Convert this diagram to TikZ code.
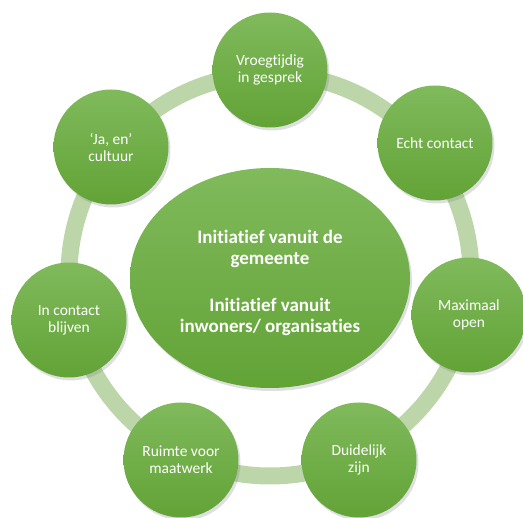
\documentclass[tikz,border=0pt]{standalone}
\usepackage{fontspec}
\setmainfont[Ligatures=NoCommon]{Carlito}
\usetikzlibrary{shadows,shapes.geometric}
\definecolor{ringgreen}{RGB}{188,214,170}
\definecolor{lightgreen}{RGB}{128,186,92}
\definecolor{darkgreen}{RGB}{98,163,54}
\tikzset{
	value/.style={circle, minimum size=115pt, inner sep=0pt, top color=lightgreen, bottom color=darkgreen,
		text=white, align=center, font=\fontsize{15.5}{17}\selectfont,
		drop shadow={opacity=0.25, shadow xshift=2pt, shadow yshift=-3pt}},
	core/.style={ellipse, minimum width=280pt, minimum height=220pt, inner sep=0pt, top color=lightgreen, bottom color=darkgreen,
		text=white, align=center, font=\bfseries\fontsize{19}{21}\selectfont,
		drop shadow={opacity=0.25, shadow xshift=2pt, shadow yshift=-3pt}}
}
\begin{document}
\begin{tikzpicture}[x=1pt,y=-1pt]
	% page frame
	\useasboundingbox (0,0) rectangle (523,518);
	% ring behind the circles
	\draw[ringgreen, line width=17pt] (270,275) circle [radius=201pt];

	% center
	\node[core] (center) at (270,278) {};
	\node[white, align=center, font=\bfseries\fontsize{19}{21}\selectfont] (centertext) at (270,283)
		{Initiatief vanuit de\\gemeente\\[26pt]Initiatief vanuit\\inwoners/ organisaties};

	% the seven values, clockwise from the top
	\node[value] (early)   at (270,70)  {Vroegtijdig\\in gesprek};
	\node[value] (contact) at (435,143) {Echt contact};
	\node[value] (open)    at (469,315) {Maximaal\\open};
	\node[value] (clear)   at (359,460) {Duidelijk\\zijn};
	\node[value] (custom)  at (181,460) {Ruimte voor\\maatwerk};
	\node[value] (touch)   at (69,320)  {In contact\\blijven};
	\node[value] (yesand)  at (111,147) {`Ja, en'\\cultuur};
\end{tikzpicture}
\end{document}
